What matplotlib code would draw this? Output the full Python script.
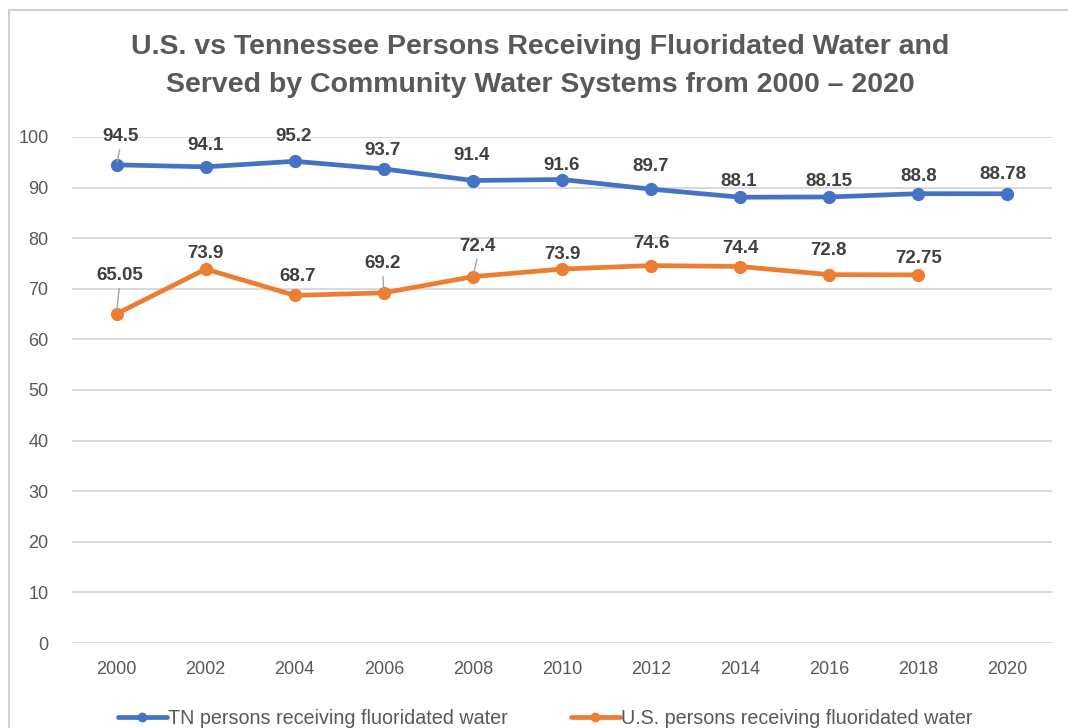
import matplotlib
matplotlib.use("Agg")
import matplotlib.pyplot as plt
from matplotlib.patches import Rectangle

# ---- data ----
years = [2000, 2002, 2004, 2006, 2008, 2010, 2012, 2014, 2016, 2018, 2020]
tn_values = [94.5, 94.1, 95.2, 93.7, 91.4, 91.6, 89.7, 88.1, 88.15, 88.8, 88.78]
us_years = [2000, 2002, 2004, 2006, 2008, 2010, 2012, 2014, 2016, 2018]
us_values = [65.05, 73.9, 68.7, 69.2, 72.4, 73.9, 74.6, 74.4, 72.8, 72.75]
tn_labels = ["94.5", "94.1", "95.2", "93.7", "91.4", "91.6", "89.7", "88.1", "88.15", "88.8", "88.78"]
us_labels = ["65.05", "73.9", "68.7", "69.2", "72.4", "73.9", "74.6", "74.4", "72.8", "72.75"]
tn_name = "TN persons receiving fluoridated water"
us_name = "U.S. persons receiving fluoridated water"
title = ("U.S. vs Tennessee Persons Receiving Fluoridated Water and\n"
         "Served by Community Water Systems from 2000 \u2013 2020")
y_ticks = list(range(0, 101, 10))

# ---- label placement (pixel offsets from each point, and leader lines) ----
tn_offsets = [(4, 28), (0, 21), (-1, 25), (-1, 18), (-1, 25), (0, 14),
              (0, 23), (-1, 16), (0, 15), (0, 17), (-5, 19)]
us_offsets = [(3, 38), (0, 16), (3, 19), (-1, 29), (5, 30), (0, 15),
              (0, 22), (0, 18), (-1, 24), (0, 16)]
tn_leaders = [True] + [False] * 10
us_leaders = [True, False, False, True, True, False, False, False, False, False]

BLUE = "#4472C4"
ORANGE = "#ED7D31"
GRID = "#D9D9D9"
TEXT = "#595959"
LABEL = "#404040"
FONT = ["Liberation Sans", "DejaVu Sans"]

W, H = 1068, 728
fig = plt.figure(figsize=(W / 100, H / 100), dpi=100)
fig.patch.set_facecolor("white")

# chart-area frame
fig.patches.append(Rectangle((9 / W, -0.05), 1.2, 1 - 10 / H + 0.05,
                             transform=fig.transFigure, fill=False,
                             edgecolor="#D0D0D0", lw=1.5))

ax = fig.add_axes([72 / W, 1 - 643 / H, (1052 - 72) / W, (643 - 137) / H])
ax.set_xlim(1999, 2021)
ax.set_ylim(0, 100)
for s in ax.spines.values():
    s.set_visible(False)
ax.set_yticks(y_ticks)
ax.set_xticks(years)
ax.grid(axis="y", color=GRID, lw=1.4)
ax.set_axisbelow(True)
ax.tick_params(length=0, colors=TEXT, labelsize=13)
ax.tick_params(axis="y", pad=17)
ax.tick_params(axis="x", pad=13)
for lbl in ax.get_xticklabels() + ax.get_yticklabels():
    lbl.set_family(FONT)

ax.plot(years, tn_values, color=BLUE, lw=3.4, marker="o", ms=8.5,
        solid_capstyle="round", label=tn_name, zorder=3)
ax.plot(us_years, us_values, color=ORANGE, lw=3.4, marker="o", ms=8.5,
        solid_capstyle="round", label=us_name, zorder=3)


def put_labels(xs, ys, texts, offsets, leaders):
    for x, y, t, (dx, dy), lead in zip(xs, ys, texts, offsets, leaders):
        kw = {}
        if lead:
            kw["arrowprops"] = dict(arrowstyle="-", color="#A6A6A6", lw=1.0,
                                    relpos=(0.5, 0.0), shrinkA=1, shrinkB=2)
        ax.annotate(t, (x, y), xytext=(dx, dy), textcoords="offset pixels",
                    ha="center", va="center", fontsize=13.5, fontweight="bold",
                    color=LABEL, family=FONT, zorder=4, **kw)


put_labels(years, tn_values, tn_labels, tn_offsets, tn_leaders)
put_labels(us_years, us_values, us_labels, us_offsets, us_leaders)

fig.text(540 / W, 1 - 66 / H, title, ha="center", va="center", fontsize=20.5,
         fontweight="bold", color=TEXT, family=FONT, linespacing=1.62)

leg = fig.legend(loc="center", bbox_to_anchor=(545 / W, 1 - 718 / H), ncol=2,
                 frameon=False, handlelength=2.5, columnspacing=3.2,
                 handletextpad=0.05, borderaxespad=0, borderpad=0,
                 prop={"family": FONT, "size": 14.2})
for t in leg.get_texts():
    t.set_color(TEXT)
for h in leg.legend_handles:
    h.set_markersize(6)

fig.savefig("out.png", dpi=100, facecolor="white")
